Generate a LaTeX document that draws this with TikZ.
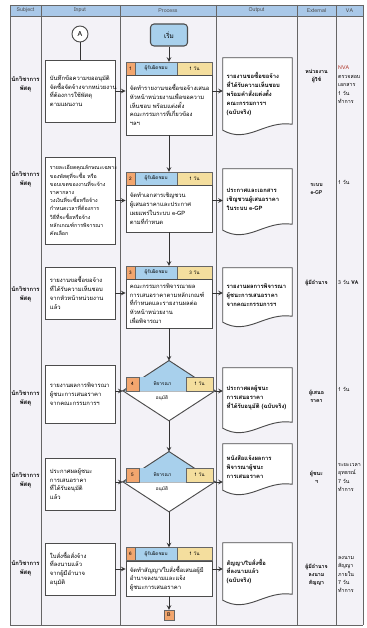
\documentclass[tikz,border=0pt]{standalone}
\usepackage{fontspec}
\setmainfont[Script=Thai]{Loma}
\usetikzlibrary{shapes.geometric,calc}

\definecolor{hdblue}{HTML}{A9C8E8}
\definecolor{stblue}{HTML}{A8D0EC}
\definecolor{styel}{HTML}{F4DE9E}
\definecolor{storg}{HTML}{F2A66E}
\definecolor{paper}{HTML}{F3F2F7}
\definecolor{vared}{HTML}{B03A2E}

\pgfdeclarelayer{bg}
\pgfsetlayers{bg,main}

\tikzset{
  grid/.style={draw=black!60, line width=0.7pt},
  hd/.style={font=\fontsize{4.5}{5}\selectfont, text=black!70},
  small/.style={font=\fontsize{5}{7.5}\selectfont},
  subj/.style={font=\bfseries\fontsize{5}{7.5}\selectfont, align=center, inner sep=0pt},
  inbox/.style={small, draw=black!70, line width=0.8pt, fill=white,
    minimum width=2.1cm, text width=1.8cm, align=left},
  prbody/.style={small, draw=black!70, line width=0.8pt, fill=white,
    minimum width=2.58cm, text width=2.35cm, align=left, inner sep=2pt},
  stnum/.style={draw=black!60, fill=storg, minimum width=0.27cm,
    minimum height=0.39cm, inner sep=0pt, font=\fontsize{4}{4}\selectfont},
  strole/.style={draw=black!60, fill=stblue, minimum width=1.26cm,
    minimum height=0.39cm, inner sep=0pt, font=\fontsize{4}{4}\selectfont},
  sttime/.style={draw=black!60, fill=styel, minimum width=1.05cm,
    minimum height=0.39cm, inner sep=0pt, font=\fontsize{4}{4}\selectfont},
  doc/.style={font=\bfseries\fontsize{5}{7.5}\selectfont, minimum width=2.07cm,
    text width=1.85cm, align=left, inner sep=2pt},
  docline/.style={draw=black!70, line width=0.8pt, fill=white},
  flow/.style={draw=black!80, line width=0.7pt, ->},
  ext/.style={font=\bfseries\fontsize{4.5}{7}\selectfont, align=center, inner sep=0pt},
  va/.style={font=\fontsize{4.5}{7.2}\selectfont, align=left, inner sep=0pt, anchor=north west},
}

\newcommand\docout[1]{%
  \draw[docline] (#1.north west) -- (#1.north east) -- ($(#1.south east)+(0,-6)$)
    .. controls ($(#1.south east)+(-28,-10)$) and ($(#1.south west)+(25,14)$) .. (#1.south west) -- cycle;}

\begin{document}
\begin{tikzpicture}[x=0.03cm, y=-0.03cm, >=stealth]
  \useasboundingbox (0,0) rectangle (366,628);

  % table frame
  \fill[hdblue] (10,5) rectangle (363,16);
  \foreach \x in {10,41,120,216,297,336,363}
    \draw[grid] (\x,5) -- (\x,625);
  \draw[grid] (10,5) -- (363,5) (10,16) -- (363,16) (10,625) -- (363,625);
  \node[hd] (hsub) at (25.5,10.5) {Subject};
  \node[hd] (hin) at (80,10.5) {Input};
  \node[hd] (hpr) at (168,10.5) {Process};
  \node[hd] (hout) at (256.5,10.5) {Output};
  \node[hd] (hext) at (316.5,10.5) {External};
  \node[hd] (hva) at (349.5,10.5) {VA};

  % subject
  \foreach \y [count=\i] in {84,179,294,398,480,568}
    \node[subj] (r\i) at (25.5,\y) {นักวิชาการ\\พัสดุ};

  % input
  \node[draw=black!70, line width=0.8pt, fill=white, circle, minimum size=0.48cm,
    inner sep=0pt, font=\fontsize{6}{6}\selectfont] (ca) at (80,34) {A};
  \node[inbox, minimum height=1.86cm] (i1) at (80,91)
    {บันทึกข้อความขออนุมัติ\\จัดซื้อจัดจ้างจากหน่วยงาน\\ที่ต้องการใช้พัสดุ\\ตามแผนงาน};
  \node[inbox, minimum height=2.61cm, font=\fontsize{4.5}{7}\selectfont] (i2) at (80,200.5)
    {รายละเอียดคุณลักษณะเฉพาะ\\ของพัสดุที่จะซื้อ หรือ\\ขอบเขตของงานที่จะจ้าง\\ราคากลาง\\วงเงินที่จะซื้อหรือจ้าง\\กำหนดเวลาที่ต้องการ\\วิธีที่จะซื้อหรือจ้าง\\หลักเกณฑ์การพิจารณา\\คัดเลือก};
  \node[inbox, minimum height=1.56cm] (i3) at (80,293)
    {รายงานขอซื้อขอจ้าง\\ที่ได้รับความเห็นชอบ\\จากหัวหน้าหน่วยงาน\\แล้ว};
  \node[inbox, minimum height=1.74cm] (i4) at (80,394)
    {รายงานผลการพิจารณา\\ผู้ชนะการเสนอราคา\\จากคณะกรรมการฯ};
  \node[inbox, minimum height=1.56cm] (i5) at (80,484)
    {ประกาศผลผู้ชนะ\\การเสนอราคา\\ที่ได้รับอนุมัติ\\แล้ว};
  \node[inbox, minimum height=1.56cm] (i6) at (80,569)
    {ใบสั่งซื้อสั่งจ้าง\\ที่ลงนามแล้ว\\จากผู้มีอำนาจ\\อนุมัติ};

  % process
  \node[draw=black!70, line width=0.9pt, fill=stblue, rounded corners=3pt,
    minimum width=1.11cm, minimum height=0.66cm, font=\fontsize{5.5}{6}\selectfont] (s) at (169,35) {เริ่ม};

  \node[stnum] (p1n) at (130.5,68.5) {1};
  \node[strole] (p1r) at (156,68.5) {ผู้รับผิดชอบ};
  \node[sttime] (p1t) at (194.5,68.5) {1 วัน};
  \node[prbody, minimum height=1.8cm] (p1) at (169,105)
    {จัดทำรายงานขอซื้อขอจ้างเสนอ\\หัวหน้าหน่วยงานเพื่อขอความ\\เห็นชอบ พร้อมแต่งตั้ง\\คณะกรรมการที่เกี่ยวข้อง\\ฯลฯ};

  \node[stnum] (p2n) at (130.5,178.5) {2};
  \node[strole] (p2r) at (156,178.5) {ผู้รับผิดชอบ};
  \node[sttime] (p2t) at (194.5,178.5) {1 วัน};
  \node[prbody, minimum height=1.41cm] (p2) at (169,208.5)
    {จัดทำเอกสารเชิญชวน\\ผู้เสนอราคาและประกาศ\\เผยแพร่ในระบบ e-GP\\ตามที่กำหนด};

  \node[stnum] (p3n) at (130.5,272.5) {3};
  \node[strole] (p3r) at (156,272.5) {ผู้รับผิดชอบ};
  \node[sttime] (p3t) at (194.5,272.5) {3 วัน};
  \node[prbody, minimum height=1.47cm] (p3) at (169,303.5)
    {คณะกรรมการพิจารณาผล\\การเสนอราคาตามหลักเกณฑ์\\ที่กำหนดและรายงานผลต่อ\\หัวหน้าหน่วยงาน\\เพื่อพิจารณา};

  % decisions
  \foreach \n/\y/\t in {1/391/4, 2/482/5} {
    \node[draw=black!70, line width=0.8pt, fill=white, shape=diamond, inner sep=0pt,
      minimum width=2.76cm, minimum height=1.8cm] (d\n) at (169,\y) {};
    \draw[draw=black!70, line width=0.8pt, fill=stblue] (d\n.north) -- (d\n.east) -- (d\n.west) -- cycle;
    \node[fill=stblue, minimum width=1.41cm, minimum height=0.42cm, inner sep=0pt,
      font=\fontsize{4}{4}\selectfont] (d\n r) at (162.5,\y-7) {พิจารณา};
    \node[stnum, minimum width=0.39cm, minimum height=0.42cm] (d\n n) at (132.5,\y-7) {\t};
    \node[sttime, minimum width=0.81cm, minimum height=0.42cm] (d\n t) at (199.5,\y-7) {1 วัน};
    \node[font=\fontsize{4}{4}\selectfont, inner sep=0pt] (d\n l) at (162,\y+7) {อนุมัติ};
  }

  \node[stnum] (p6n) at (130.5,554) {6};
  \node[strole] (p6r) at (156,554) {ผู้รับผิดชอบ};
  \node[sttime] (p6t) at (194.5,554) {1 วัน};
  \node[prbody, minimum height=1.05cm] (p6) at (169,578.5)
    {จัดทำสัญญา/ใบสั่งซื้อเสนอผู้มี\\อำนาจลงนามและแจ้ง\\ผู้ชนะการเสนอราคา};

  \node[draw=black!60, fill=storg, minimum size=0.3cm, inner sep=0pt,
    font=\fontsize{4.5}{4.5}\selectfont] (e) at (169,615) {B};

  % output
  \node[doc, minimum height=2.16cm] (o1) at (257.5,94)
    {รายงานขอซื้อขอจ้าง\\ที่ได้รับความเห็นชอบ\\พร้อมคำสั่งแต่งตั้ง\\คณะกรรมการฯ\\(ฉบับจริง)};
  \node[doc, minimum height=1.83cm] (o2) at (257.5,199.5)
    {ประกาศและเอกสาร\\เชิญชวนผู้เสนอราคา\\ในระบบ e-GP};
  \node[doc, minimum height=1.62cm] (o3) at (257.5,295)
    {รายงานผลการพิจารณา\\ผู้ชนะการเสนอราคา\\จากคณะกรรมการฯ};
  \node[doc, minimum height=1.8cm] (o4) at (257.5,398)
    {ประกาศผลผู้ชนะ\\การเสนอราคา\\ที่ได้รับอนุมัติ (ฉบับจริง)};
  \node[doc, minimum height=1.38cm] (o5) at (257.5,467)
    {หนังสือแจ้งผลการ\\พิจารณาผู้ชนะ\\การเสนอราคา};
  \node[doc, minimum height=1.71cm] (o6) at (257.5,571.5)
    {สัญญา/ใบสั่งซื้อ\\ที่ลงนามแล้ว\\(ฉบับจริง)};

  % external
  \node[ext] (x1) at (316.5,76) {หน่วยงาน\\ผู้ใช้};
  \node[ext] (x2) at (316.5,189) {ระบบ\\e-GP};
  \node[ext] (x3) at (316.5,283) {ผู้มีอำนาจ};
  \node[ext] (x4) at (316.5,396) {ผู้เสนอ\\ราคา};
  \node[ext] (x5) at (316.5,477) {ผู้ชนะ\\ฯ};
  \node[ext] (x6) at (316.5,575) {ผู้มีอำนาจ\\ลงนาม\\สัญญา};

  % VA
  \node[va] (v1) at (338,66) {\textcolor{vared}{NVA}\\ตรวจสอบ\\เอกสาร\\1 วัน\\ทำการ};
  \node[va] (v2) at (338,180) {1 วัน};
  \node[va] (v3) at (338,280) {3 วัน \textbf{VA}};
  \node[va] (v4) at (338,387) {1 วัน};
  \node[va] (v5) at (338,463) {ระยะเวลา\\อุทธรณ์\\7 วัน\\ทำการ};
  \node[va] (v6) at (338,556) {ลงนาม\\สัญญา\\ภายใน\\7 วัน\\ทำการ};

  % connectors
  \draw[draw=black!80, line width=0.7pt] (ca) -- (i1);
  \draw[flow] (s) -- (s.south |- p1r.north);
  \draw[flow] (p1) -- (p1.south |- p2r.north);
  \draw[flow] (p2) -- (p2.south |- p3r.north);
  \draw[flow] (p3) -- (d1.north);
  \draw[flow] (d1.south) -- (d2.north);
  \draw[flow] (d2.south) -- (d2.south |- p6r.north);
  \draw[flow] (p6) -- (e);

  \foreach \rw in {1,2,3,6} {
    \draw[flow] (i\rw.east) -- (i\rw.east -| p\rw.west);
    \draw[flow] (i\rw.east -| p\rw.east) -- (i\rw.east -| o\rw.west);
  }
  \draw[flow] (i4.east |- d1.west) -- (d1.west);
  \draw[flow] (d1.east) -- (d1.east -| o4.west);
  \draw[flow] (i5.east |- d2.west) -- (d2.west);
  \draw[flow] (d2.east) -- (d2.east -| o5.west);

  % background and documents
  \begin{pgfonlayer}{bg}
    \fill[white] (0,0) rectangle (366,628);
    \fill[paper] (10,5) rectangle (363,625);
    \foreach \rw in {1,...,6} {\docout{o\rw}}
  \end{pgfonlayer}
\end{tikzpicture}
\end{document}
